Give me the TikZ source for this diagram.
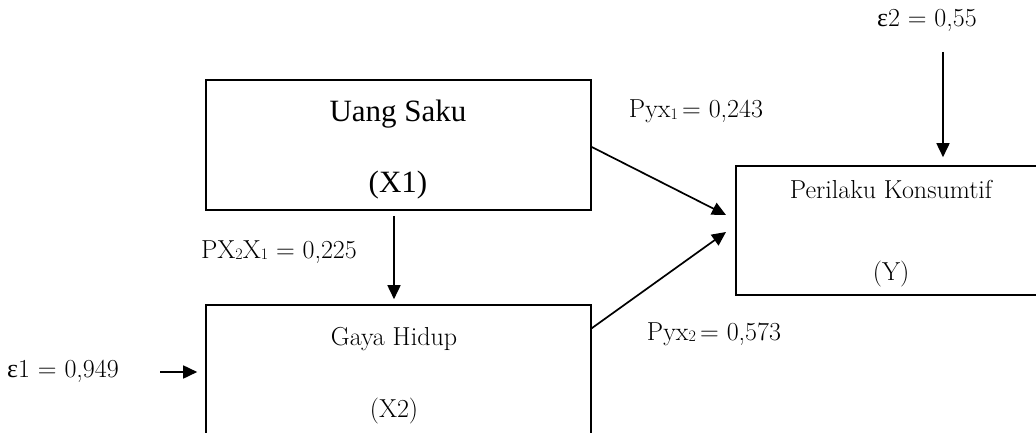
\documentclass[tikz,border=0pt]{standalone}
\usepackage{fontspec}
\newfontfamily\tnr{Liberation Serif}
\usetikzlibrary{arrows.meta,calc}
\newcommand\lowsub[1]{\raisebox{-0.1ex}{\fontsize{16}{16}\selectfont #1}}
\newcommand\eps{{\tnr ε}}
\tikzset{
  box/.style={draw, line width=1.6pt, rectangle, inner sep=0pt},
  lbl/.style={anchor=base, inner sep=0pt, font=\fontsize{26}{30}\selectfont},
  tlbl/.style={anchor=base, inner sep=0pt, font=\tnr\fontsize{31}{36}\selectfont},
  arr/.style={line width=1.7pt, -{Triangle[length=14pt,width=13pt]}}
}
\begin{document}
\begin{tikzpicture}[x=1pt,y=-1pt]
\clip (0,0) rectangle (1036,433);
\fill[white] (0,0) rectangle (1036,433);
% boxes
\node[box, minimum width=385pt, minimum height=130pt] (x1) at (398.5,145) {};
\node[box, minimum width=385pt, minimum height=150pt] (x2) at (398.5,380) {};
\node[box, minimum width=310pt, minimum height=129pt] (yb) at (891,230.5) {};
% box texts
\node[tlbl] (t1a) at (398,122) {Uang Saku};
\node[tlbl] (t1b) at (398,193) {(X1)};
\node[lbl] (t2a) at (394,345) {Gaya Hidup};
\node[lbl] (t2b) at (394,417) {(X2)};
\node[lbl] (tya) at (891,198) {Perilaku Konsumtif};
\node[lbl] (tyb) at (891,280) {(Y)};
% coefficient labels
\node[lbl] (p1) at (696,118) {Pyx\lowsub{1}\,= 0,243};
\node[lbl] (p2) at (714,340) {Pyx\lowsub{2}\,= 0,573};
\node[lbl] (p21) at (279,258) {PX\lowsub{2}X\lowsub{1} = 0,225};
\node[lbl] (e1) at (63,377) {\eps1 = 0,949};
\node[lbl] (e2) at (927,27) {\eps2 = 0,55};
% connector ends
\coordinate (t1) at (726,215);
\coordinate (t2) at (726,232);
\coordinate (e1s) at (160,372);
\coordinate (e2s) at (943,52);
% connectors
\draw[arr, shorten <=5pt, shorten >=5pt] ([xshift=-4.5pt]x1.south) -- ([xshift=-4.5pt]x2.north);
\draw[arr] ([yshift=-2pt]x1.east) -- (t1);
\draw[arr] ($(x2.north east)+(0,24)$) -- (t2);
\draw[arr, shorten >=8pt] (e1s) -- (e1s -| x2.west);
\draw[arr, shorten >=8pt] (e2s) -- (e2s |- yb.north);
\end{tikzpicture}
\end{document}
